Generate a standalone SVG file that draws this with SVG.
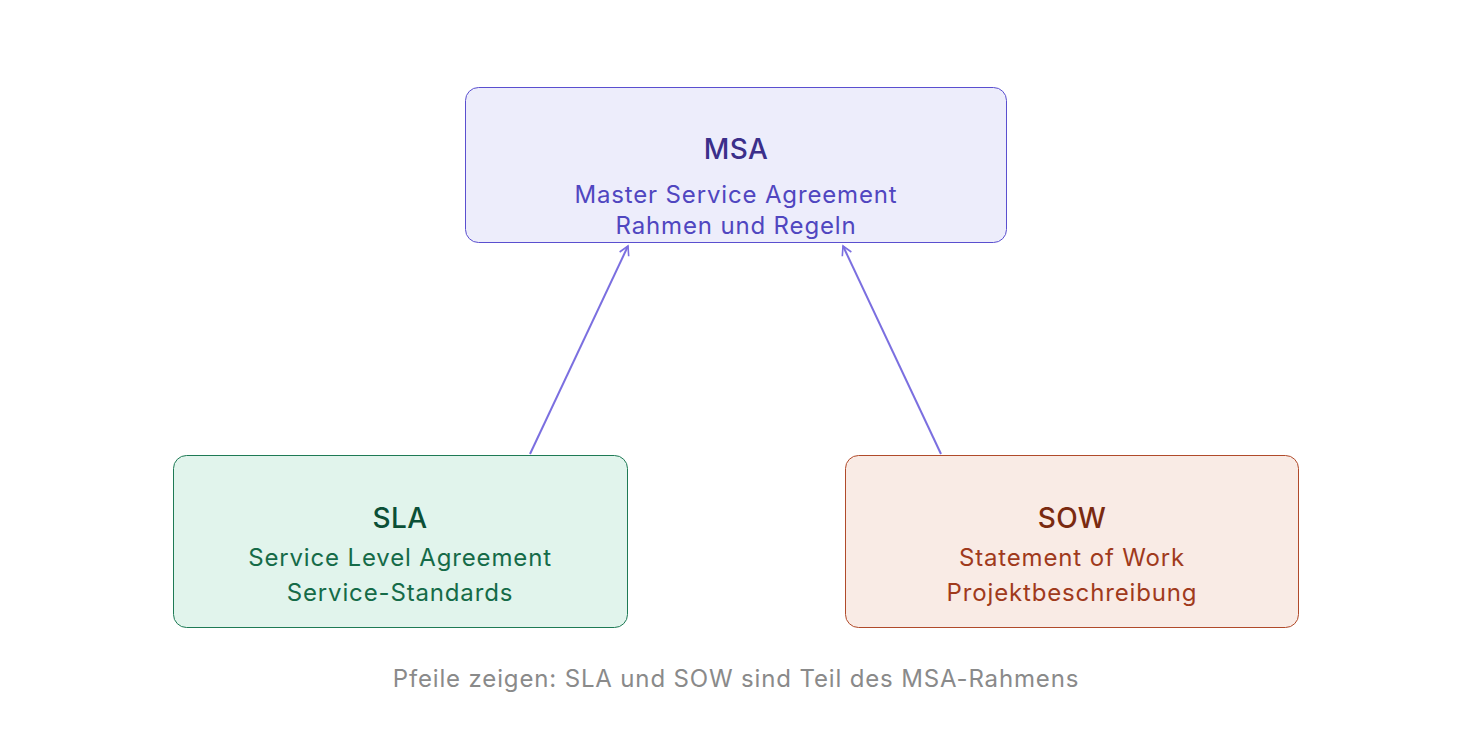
<svg xmlns="http://www.w3.org/2000/svg" width="1472" height="736" viewBox="0 0 1472 736">
<style>
text{font-family:Inter,"Liberation Sans",sans-serif;text-anchor:middle}
.t{font-size:28px;font-weight:500;letter-spacing:0.4px}
.s{font-size:24px;letter-spacing:0.85px}
.msa rect{fill:#ededfb;stroke:#5a4fcf;stroke-width:1}
.msa .t{fill:#3b2f8a}.msa .s{fill:#5046c0}
.sla rect{fill:#e1f4ec;stroke:#1e7a55;stroke-width:1}
.sla .t{fill:#0b4f36}.sla .s{fill:#156b48}
.sow rect{fill:#f9ebe5;stroke:#b04a2a;stroke-width:1}
.sow .t{fill:#7a2a10}.sow .s{fill:#a03a1c}
.edge{stroke:#7b6fe0;stroke-width:2;fill:none;marker-end:url(#arr)}
.foot{font-size:24px;letter-spacing:0.85px;fill:#8a8a8a}
</style>
<defs>
<marker id="arr" viewBox="0 0 12 12" refX="10" refY="6" markerWidth="12" markerHeight="12" markerUnits="userSpaceOnUse" orient="auto">
<path d="M1,1 L10,6 L1,11" fill="none" stroke="#7b6fe0" stroke-width="1.6"/>
</marker>
</defs>
<rect width="1472" height="736" fill="#fff"/>
<g id="connectors">
<line class="edge" x1="530" y1="454" x2="628" y2="246"/>
<line class="edge" x1="941" y1="454" x2="843" y2="246"/>
</g>
<g id="msa" class="msa">
<rect x="465.5" y="87.5" width="541" height="155" rx="13"/>
<text class="t" x="736" y="159">MSA</text>
<text class="s" x="736" y="203">Master Service Agreement</text>
<text class="s" x="736" y="234">Rahmen und Regeln</text>
</g>
<g id="sla" class="sla">
<rect x="173.5" y="455.5" width="454" height="172" rx="13"/>
<text class="t" x="400" y="528">SLA</text>
<text class="s" x="400" y="566">Service Level Agreement</text>
<text class="s" x="400" y="601">Service-Standards</text>
</g>
<g id="sow" class="sow">
<rect x="845.5" y="455.5" width="453" height="172" rx="13"/>
<text class="t" x="1072" y="528">SOW</text>
<text class="s" x="1072" y="566">Statement of Work</text>
<text class="s" x="1072" y="601">Projektbeschreibung</text>
</g>
<text class="foot" x="736" y="687">Pfeile zeigen: SLA und SOW sind Teil des MSA-Rahmens</text>
</svg>
